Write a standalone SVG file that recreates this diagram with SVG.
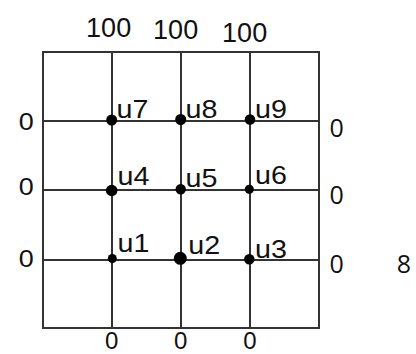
<svg xmlns="http://www.w3.org/2000/svg" width="416" height="354" viewBox="0 0 416 354">
<style>
.ln{stroke:#333;stroke-width:2;fill:none}
.dot{fill:#000}
.a{font-family:"Liberation Sans",Arial,sans-serif;fill:#111}
.c{font-family:"Open Sans","Noto Sans",sans-serif;fill:#111;font-size:25px;text-anchor:middle}
.b{font-family:"Liberation Sans",Arial,sans-serif;fill:#111;font-size:24px;text-anchor:middle}
.u{font-size:26.5px}
</style>
<rect width="416" height="354" fill="#fff"/>
<g id="connectors">
<rect class="ln" x="43" y="52" width="276" height="276"/>
<line class="ln" x1="112" y1="52" x2="112" y2="328"/>
<line class="ln" x1="181" y1="52" x2="181" y2="328"/>
<line class="ln" x1="250" y1="52" x2="250" y2="328"/>
<line class="ln" x1="43" y1="121" x2="319" y2="121"/>
<line class="ln" x1="43" y1="190" x2="319" y2="190"/>
<line class="ln" x1="43" y1="260" x2="319" y2="260"/>
</g>
<g id="u7"><circle class="dot" cx="111.7" cy="120" r="5.5"/><text class="a u" x="116.5" y="118.3" textLength="31.9" lengthAdjust="spacingAndGlyphs">u7</text></g>
<g id="u8"><circle class="dot" cx="180.7" cy="119.5" r="5.5"/><text class="a u" x="185.5" y="117.7" textLength="31.9" lengthAdjust="spacingAndGlyphs">u8</text></g>
<g id="u9"><circle class="dot" cx="250" cy="119.5" r="5.3"/><text class="a u" x="255" y="118.3" textLength="31.9" lengthAdjust="spacingAndGlyphs">u9</text></g>
<g id="u4"><circle class="dot" cx="111.7" cy="190.5" r="5.8"/><text class="a u" x="117.5" y="185" textLength="31.9" lengthAdjust="spacingAndGlyphs">u4</text></g>
<g id="u5"><circle class="dot" cx="180.7" cy="189.3" r="5.2"/><text class="a u" x="185.5" y="187.3" textLength="31.9" lengthAdjust="spacingAndGlyphs">u5</text></g>
<g id="u6"><circle class="dot" cx="249.3" cy="189.3" r="4.6"/><text class="a u" x="255" y="184" textLength="31.9" lengthAdjust="spacingAndGlyphs">u6</text></g>
<g id="u1"><circle class="dot" cx="112.3" cy="258.5" r="4.5"/><text class="a u" x="117.5" y="251.7" textLength="31.9" lengthAdjust="spacingAndGlyphs">u1</text></g>
<g id="u2"><circle class="dot" cx="180.3" cy="258.3" r="6.5"/><text class="a u" x="188.2" y="254" textLength="31.9" lengthAdjust="spacingAndGlyphs">u2</text></g>
<g id="u3"><circle class="dot" cx="249.3" cy="259.3" r="5.3"/><text class="a u" x="255" y="258.3" textLength="31.9" lengthAdjust="spacingAndGlyphs">u3</text></g>
<g id="boundary">
<text class="a" font-size="27" x="86.1" y="36.7">100</text>
<text class="a" font-size="27" x="153.1" y="39.3">100</text>
<text class="a" font-size="27" x="222.1" y="41.7">100</text>
<text class="a" font-size="24" x="18.8" y="130" textLength="15" lengthAdjust="spacingAndGlyphs">0</text>
<text class="a" font-size="24" x="18.8" y="195" textLength="15" lengthAdjust="spacingAndGlyphs">0</text>
<text class="a" font-size="24" x="18.8" y="266.5" textLength="15" lengthAdjust="spacingAndGlyphs">0</text>
<text class="c" x="336.7" y="137.3">0</text>
<text class="c" x="336.7" y="204">0</text>
<text class="c" x="336.7" y="273.3">0</text>
<text class="c" x="404" y="273.3">8</text>
<text class="b" x="111.7" y="348.5">0</text>
<text class="b" x="180.7" y="348.5">0</text>
<text class="b" x="250" y="348.5">0</text>
</g>
</svg>
